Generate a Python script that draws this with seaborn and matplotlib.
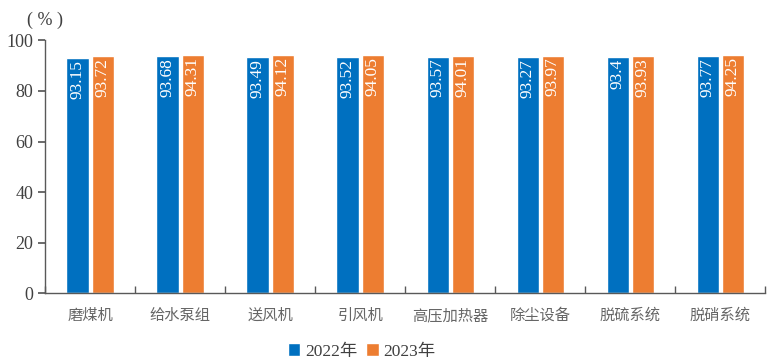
import matplotlib
matplotlib.use("Agg")
import matplotlib.pyplot as plt
import seaborn as sns
import pandas as pd
import numpy as np

categories = ["磨煤机", "给水泵组", "送风机", "引风机", "高压加热器", "除尘设备", "脱硫系统", "脱硝系统"]
v2022 = [93.15, 93.68, 93.49, 93.52, 93.57, 93.27, 93.4, 93.77]
v2023 = [93.72, 94.31, 94.12, 94.05, 94.01, 93.97, 93.93, 94.25]
labels2022 = ["93.15", "93.68", "93.49", "93.52", "93.57", "93.27", "93.4", "93.77"]
labels2023 = ["93.72", "94.31", "94.12", "94.05", "94.01", "93.97", "93.93", "94.25"]
series = ["2022年", "2023年"]
yticks = [0, 20, 40, 60, 80, 100]

sns.set_theme(style="white")
plt.rcParams["font.family"] = ["Liberation Serif", "Noto Sans CJK SC"]

df = pd.DataFrame({
    "cat": categories * 2,
    "val": v2022 + v2023,
    "year": [series[0]] * len(categories) + [series[1]] * len(categories),
})

fig = plt.figure(figsize=(7.83, 3.61), dpi=100)
ax = fig.add_axes([0.0575, 0.188, 0.92, 0.70])
sns.barplot(data=df, x="cat", y="val", hue="year", order=categories,
            palette=["#0070C0", "#ED7D31"], width=0.56, gap=0.12,
            saturation=1, ax=ax, legend=True)

for cont, labs in zip(ax.containers, [labels2022, labels2023]):
    for p, lab in zip(cont.patches, labs):
        x = p.get_x() + p.get_width() / 2
        ax.text(x, p.get_height() - 0.8, lab, rotation=90, ha="center", va="top",
                color="white", fontsize=12.5, family=["Liberation Serif"])

ax.set_ylim(0, 100)
ax.set_xlim(-0.5, len(categories) - 0.5)
ax.set_yticks(yticks)
ax.set_xlabel("")
ax.set_ylabel("")
for s in ["top", "right"]:
    ax.spines[s].set_visible(False)
for s in ["left", "bottom"]:
    ax.spines[s].set_color("#595959")
    ax.spines[s].set_linewidth(1.0)
ax.tick_params(axis="y", direction="out", length=5, color="#595959",
               labelsize=13, labelcolor="#404040", left=True)
ax.tick_params(axis="x", which="major", length=0, pad=10, labelsize=11,
               labelcolor="#666666")
ax.set_xticks(np.arange(-0.5, len(categories), 1), minor=True)
ax.tick_params(axis="x", which="minor", direction="in", length=5, color="#595959",
               bottom=True)
for t in ax.get_xticklabels():
    t.set_family(["Noto Sans CJK SC"])

fig.text(0.034, 0.93, "( % )", fontsize=13, color="#404040")

leg = ax.legend(loc="upper center", bbox_to_anchor=(0.44, -0.185), ncol=2,
                frameon=False, handlelength=0.7, handleheight=0.7,
                columnspacing=0.5, handletextpad=0.3, fontsize=12.5,
                borderaxespad=0, borderpad=0.2)
for t in leg.get_texts():
    t.set_color("#404040")

fig.savefig("out.png", dpi=100)
